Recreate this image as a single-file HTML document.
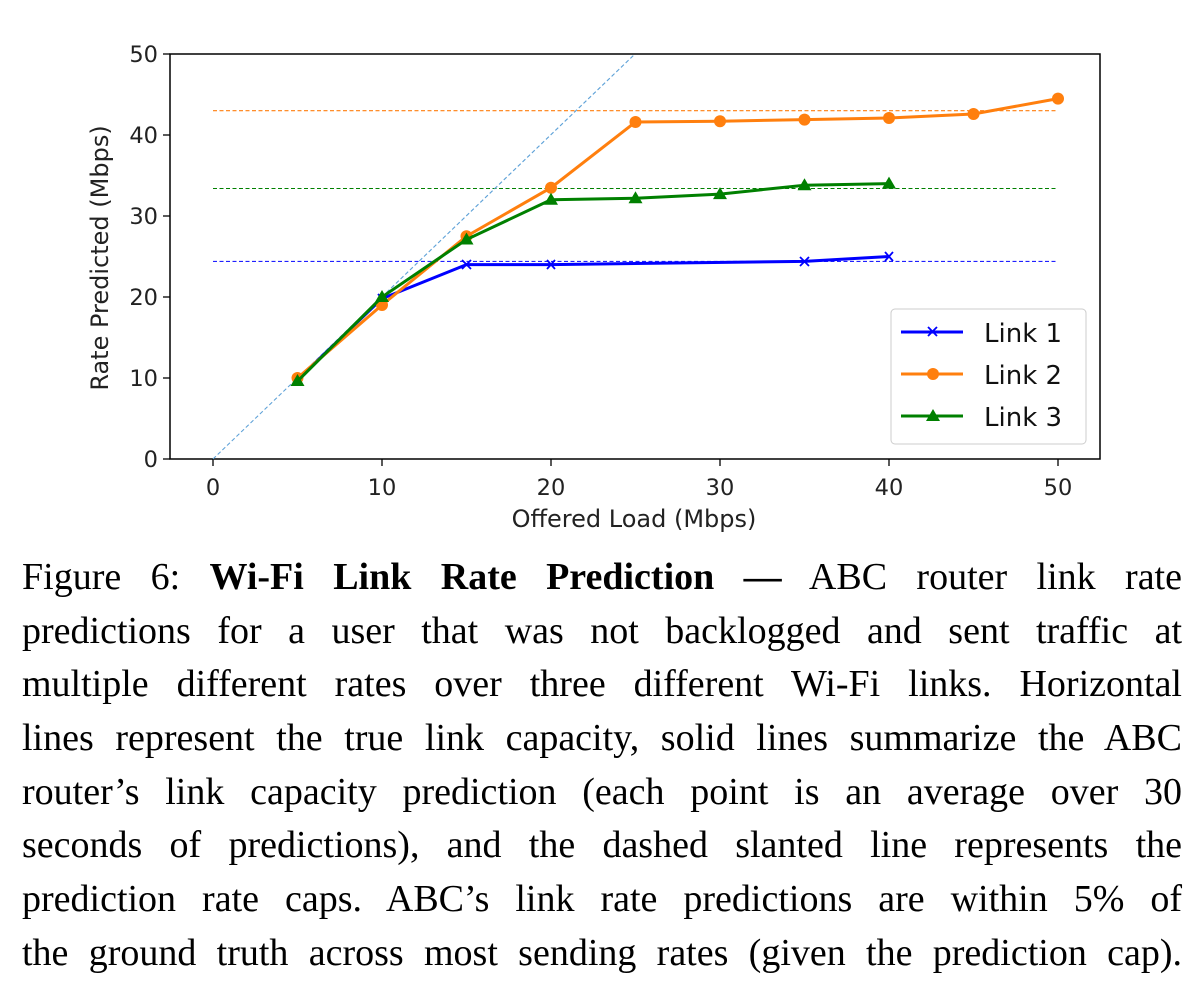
<!DOCTYPE html>
<html><head><meta charset="utf-8"><style>
body{margin:0;background:#fff;width:1202px;height:988px;overflow:hidden;position:relative}
svg{position:absolute;left:0;top:0}
.cap{position:absolute;left:22px;width:1160px;top:551px;font-family:"Liberation Serif",serif;font-size:38px;color:#000}
.cap div{height:53.7px;line-height:53.7px;text-align:justify;text-align-last:justify;white-space:nowrap}
</style></head><body>
<svg width="1202" height="540" font-family="DejaVu Sans, sans-serif">
<g stroke="#000" stroke-width="1.5" fill="none"><rect x="170" y="54" width="930" height="405"/></g>
<g font-size="22.5" fill="#222" text-anchor="end">
<text x="158" y="467">0</text><text x="158" y="386">10</text><text x="158" y="305">20</text><text x="158" y="224">30</text><text x="158" y="143">40</text><text x="158" y="62">50</text>
</g>
<g stroke="#000" stroke-width="1.3">
<line x1="163" y1="459" x2="170" y2="459"/><line x1="163" y1="378" x2="170" y2="378"/><line x1="163" y1="297" x2="170" y2="297"/><line x1="163" y1="216" x2="170" y2="216"/><line x1="163" y1="135" x2="170" y2="135"/><line x1="163" y1="54" x2="170" y2="54"/>
<line x1="213" y1="459" x2="213" y2="466"/><line x1="382" y1="459" x2="382" y2="466"/><line x1="551" y1="459" x2="551" y2="466"/><line x1="720" y1="459" x2="720" y2="466"/><line x1="889" y1="459" x2="889" y2="466"/><line x1="1058" y1="459" x2="1058" y2="466"/>
</g>
<g font-size="22.5" fill="#222" text-anchor="middle">
<text x="213" y="495">0</text><text x="382" y="495">10</text><text x="551" y="495">20</text><text x="720" y="495">30</text><text x="889" y="495">40</text><text x="1058" y="495">50</text>
<text x="634" y="527" font-size="24">Offered Load (Mbps)</text>
<text transform="translate(108,258) rotate(-90)" font-size="24">Rate Predicted (Mbps)</text>
</g>
<g stroke-width="1.1" stroke-dasharray="4,2.5" fill="none">
<line x1="213" y1="261.4" x2="1058" y2="261.4" stroke="#2020ff"/>
<line x1="213" y1="110.7" x2="1058" y2="110.7" stroke="#ff7f0e"/>
<line x1="213" y1="188.5" x2="1058" y2="188.5" stroke="green"/>
<line x1="213" y1="459" x2="635" y2="54" stroke="#5fa2d8"/>
</g>
<polyline fill="none" stroke="blue" stroke-width="3" points="297.5,379.6 382,298.6 466.5,264.6 551,264.6 804.5,261.4 889,256.5"/>
<g stroke="blue" stroke-width="1.8">
<path d="M293,375l9,9M302,375l-9,9M378,294l8,9M386,294l-8,9M462,260l9,9M471,260l-9,9M547,260l8,9M555,260l-8,9M800,257l9,9M809,257l-9,9M885,252l8,9M893,252l-8,9"/>
</g>
<polyline fill="none" stroke="#ff7f0e" stroke-width="3" points="297.5,378 382,305 466.5,236.2 551,187.7 635.5,122 720,121.2 804.5,119.6 889,118 973.5,114 1058,98.6"/>
<g fill="#ff7f0e">
<circle cx="297.5" cy="378" r="6"/><circle cx="382" cy="305" r="6"/><circle cx="466.5" cy="236.2" r="6"/><circle cx="551" cy="187.7" r="6"/><circle cx="635.5" cy="122" r="6"/><circle cx="720" cy="121.2" r="6"/><circle cx="804.5" cy="119.6" r="6"/><circle cx="889" cy="118" r="6"/><circle cx="973.5" cy="114" r="6"/><circle cx="1058" cy="98.6" r="6"/>
</g>
<polyline fill="none" stroke="green" stroke-width="3" points="297.5,381.2 382,297 466.5,239.5 551,199.8 635.5,198.2 720,194.1 804.5,185.2 889,183.6"/>
<g fill="green">
<path d="M297.5,374l7,12h-14zM382,290l7,12h-14zM466.5,232.5l7,12h-14zM551,192.8l7,12h-14zM635.5,191.2l7,12h-14zM720,187.1l7,12h-14zM804.5,178.2l7,12h-14zM889,176.6l7,12h-14z"/>
</g>
<rect x="891" y="309" width="195" height="135" rx="4" fill="#fff" stroke="#ccc" stroke-width="1"/>
<line x1="901" y1="332" x2="963" y2="332" stroke="blue" stroke-width="3"/>
<path d="M928,327l9,9M937,327l-9,9" stroke="blue" stroke-width="1.8"/>
<line x1="901" y1="374" x2="963" y2="374" stroke="#ff7f0e" stroke-width="3"/>
<circle cx="933" cy="374" r="6" fill="#ff7f0e"/>
<line x1="901" y1="416" x2="963" y2="416" stroke="green" stroke-width="3"/>
<path d="M933,409l7,12h-14z" fill="green"/>
<g font-size="26" fill="#111"><text x="984" y="342">Link 1</text><text x="984" y="384">Link 2</text><text x="984" y="426">Link 3</text></g>
</svg>
<div class="cap">
<div>Figure 6: <b>Wi-Fi Link Rate Prediction —</b> ABC router link rate</div>
<div>predictions for a user that was not backlogged and sent traffic at</div>
<div>multiple different rates over three different Wi-Fi links. Horizontal</div>
<div>lines represent the true link capacity, solid lines summarize the ABC</div>
<div>router’s link capacity prediction (each point is an average over 30</div>
<div>seconds of predictions), and the dashed slanted line represents the</div>
<div>prediction rate caps. ABC’s link rate predictions are within 5% of</div>
<div>the ground truth across most sending rates (given the prediction cap).</div>
</div>
</body></html>
